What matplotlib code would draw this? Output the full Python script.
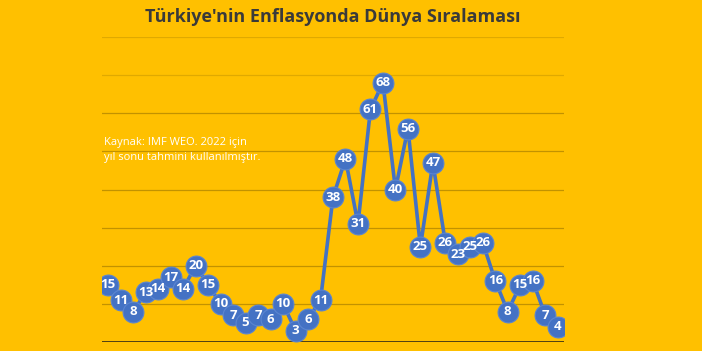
import matplotlib
matplotlib.use("Agg")
import matplotlib.pyplot as plt

years = list(range(1986, 2023))
ranks = [15, 11, 8, 13, 14, 17, 14, 20, 15, 10, 7, 5, 7, 6, 10, 3, 6, 11,
         38, 48, 31, 61, 68, 40, 56, 25, 47, 26, 23, 25, 26, 16, 8, 15, 16, 7, 4]
title = "Türkiye'nin Enflasyonda Dünya Sıralaması"
note = "Kaynak: IMF WEO. 2022 için\nyıl sonu tahmini kullanılmıştır."

bg = "#FFC000"
blue = "#4472C4"

fig = plt.figure(figsize=(7.02, 3.51), dpi=100, facecolor=bg)
ax = fig.add_axes([102/702, 1 - 342/351, (564-102)/702, (342-37)/351])
ax.set_facecolor(bg)

x = list(range(len(years)))
ax.plot(x, ranks, color=blue, lw=2.6, zorder=3)
ax.scatter(x, ranks, s=(15)**2, color=blue, edgecolors="#5B85D0", linewidths=0.8, zorder=4)
for xi, v in zip(x, ranks):
    ax.text(xi, v, str(v), ha='center', va='center', color='white',
            fontsize=9.5, fontweight='bold', family='Open Sans', zorder=5)

ax.set_xlim(-0.5, len(years) - 0.5)
ax.set_ylim(0, 80)
for gv in range(10, 81, 10):
    a = 0.6 if gv <= 60 else 0.3
    ax.axhline(gv, color="#9A7400", lw=0.9, alpha=a, zorder=1)
ax.axhline(0, color="#1a1a1a", lw=1.8, zorder=2)
for s in ax.spines.values():
    s.set_visible(False)
ax.set_xticks([])
ax.set_yticks([])

fig.text(333/702, 1 - 17/351, title, ha='center', va='center', fontsize=13,
         fontweight='bold', family='Open Sans', color='#3a3a3a')
fig.text(104/702, 1 - 150/351, note, ha='left', va='center', fontsize=8,
         family='Open Sans', color='white', linespacing=1.4)

fig.savefig("out.png", dpi=100, facecolor=bg)
